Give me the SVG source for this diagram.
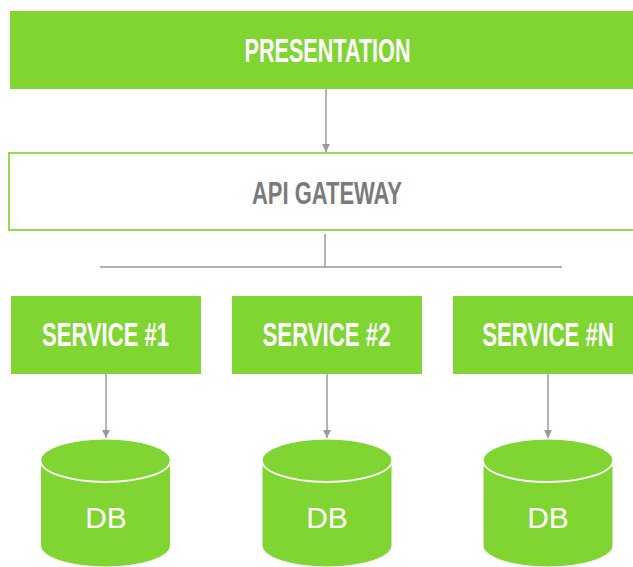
<svg xmlns="http://www.w3.org/2000/svg" width="633" height="567" viewBox="0 0 633 567">
  <defs>
    <style>
      .box { fill: #80d532; }
      .outline { fill: #ffffff; stroke: #8fdb52; stroke-width: 2; }
      .label { font-family: "Liberation Sans", Arial, sans-serif; text-anchor: middle; }
      .heading { font-weight: bold; }
      .white { fill: #ffffff; }
      .grey { fill: #7a7a7a; }
      .wire { stroke: #9a9a9a; stroke-width: 1.5; fill: none; }
      .db-body { fill: #80d532; stroke: #ffffff; stroke-width: 1; }
      .db-rim { fill: none; stroke: #ffffff; stroke-width: 1.8; }
    </style>
    <marker id="arrow" viewBox="0 0 8 10" refX="8" refY="5" markerWidth="8" markerHeight="10" markerUnits="userSpaceOnUse" orient="auto">
      <path d="M0,1 L8,5 L0,9 Z" fill="#9a9a9a"/>
    </marker>
    <symbol id="cylinder" overflow="visible">
      <path class="db-body" d="M-65,0 A65,21.5 0 0 1 65,0 L65,85 A65,21.5 0 0 1 -65,85 Z"/>
      <path class="db-rim" d="M-65,0 A65,21.5 0 0 0 65,0"/>
    </symbol>
  </defs>

  <rect width="633" height="567" fill="#ffffff"/>

  <!-- top layer -->
  <g id="presentation">
    <rect class="box" x="10" y="11" width="623" height="78"/>
    <text class="label heading white" x="327.5" y="62" font-size="34" textLength="166" lengthAdjust="spacingAndGlyphs">PRESENTATION</text>
  </g>

  <g id="api-gateway">
    <rect class="outline" x="9" y="153" width="640" height="77"/>
    <text class="label heading grey" x="327" y="204" font-size="31" textLength="150" lengthAdjust="spacingAndGlyphs">API GATEWAY</text>
  </g>

  <!-- services -->
  <g id="service-1">
    <rect class="box" x="11" y="296" width="190" height="78"/>
    <text class="label heading white" x="105.5" y="346" font-size="33" textLength="127" lengthAdjust="spacingAndGlyphs">SERVICE #1</text>
  </g>
  <g id="service-2">
    <rect class="box" x="232" y="296" width="190" height="78"/>
    <text class="label heading white" x="326.5" y="346" font-size="33" textLength="128" lengthAdjust="spacingAndGlyphs">SERVICE #2</text>
  </g>
  <g id="service-n">
    <rect class="box" x="453" y="296" width="180" height="78"/>
    <!-- narrowed with a horizontal scale so the glyph box stays inside the canvas -->
    <text class="label heading white" transform="translate(548 346) scale(0.673 1)" x="0" y="0" font-size="33">SERVICE #N</text>
  </g>

  <!-- databases -->
  <g id="db-1">
    <use href="#cylinder" x="105.5" y="460.5"/>
    <text class="label white" x="106" y="528" font-size="30">DB</text>
  </g>
  <g id="db-2">
    <use href="#cylinder" x="327" y="460.5"/>
    <text class="label white" x="327" y="528" font-size="30">DB</text>
  </g>
  <g id="db-n">
    <use href="#cylinder" x="548" y="460.5"/>
    <text class="label white" x="548" y="528" font-size="30">DB</text>
  </g>

  <!-- connectors -->
  <g id="connectors">
    <line class="wire" x1="326" y1="89" x2="326" y2="152" marker-end="url(#arrow)"/>
    <line class="wire" x1="325" y1="234" x2="325" y2="267"/>
    <line class="wire" x1="100" y1="267" x2="562" y2="267"/>
    <line class="wire" x1="106" y1="374" x2="106" y2="438" marker-end="url(#arrow)"/>
    <line class="wire" x1="327" y1="374" x2="327" y2="438" marker-end="url(#arrow)"/>
    <line class="wire" x1="548" y1="374" x2="548" y2="438" marker-end="url(#arrow)"/>
  </g>
</svg>
